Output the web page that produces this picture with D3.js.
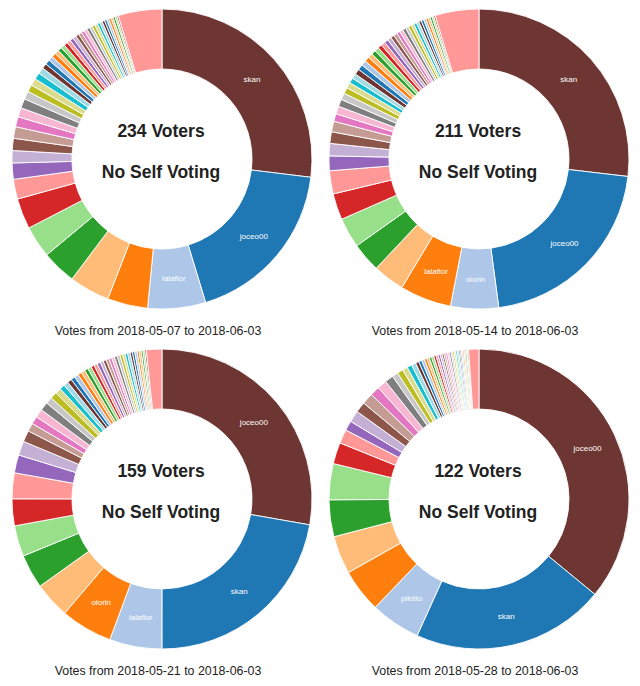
<!DOCTYPE html>
<html>
<head>
<meta charset="utf-8">
<script src="https://cdn.jsdelivr.net/npm/d3@7"></script>
<style>
  html, body { margin: 0; padding: 0; background: #fff; }
  svg { display: block; }
</style>
</head>
<body>
<svg id="chart" width="640" height="686"></svg>
<script>
// ---- data (slice shares; last slice = everyone else) ----
const dateRanges = ["2018-05-07 to 2018-06-03", "2018-05-14 to 2018-06-03",
                    "2018-05-21 to 2018-06-03", "2018-05-28 to 2018-06-03"];
const voterCounts = [234, 211, 159, 122];
const centerSubtitle = "No Self Voting";

const labels1 = ["skan", "joceo00", "lalaflor"];
const labels2 = ["skan", "joceo00", "olorin", "lalaflor"];
const labels3 = ["joceo00", "skan", "lalaflor", "olorin"];
const labels4 = ["joceo00", "skan", "pilotto"];

const shares1 = [97.2, 66.2, 22.5, 15.7, 15.7, 13.4, 12.4, 11.9, 7.7, 6.3, 4.8, 4.7, 4.5, 3.9, 3.6, 3.7, 3.1, 2.8, 2.8, 2.6, 2.4,
  2.0, 1.9, 1.8, 1.7, 1.6, 1.6, 1.5, 1.5, 1.4, 1.4, 1.3, 1.3, 1.3, 1.2, 1.2, 1.2, 1.1, 1.1, 1.1, 1.0, 1.0, 1.0, 0.9, 0.9, 0.9, 0.8, 0.8, 0.7, 0.6,
  17.0];
const shares2 = [96.8, 75.8, 18.6, 20.0, 12.3, 11.4, 11.7, 10.2, 9.0, 5.7, 4.8, 4.5, 4.1, 3.0, 3.0, 2.8, 2.6, 2.4, 2.2, 2.0, 1.9,
  2.2, 2.1, 2.0, 1.9, 1.8, 1.7, 1.7, 1.6, 1.6, 1.5, 1.5, 1.4, 1.4, 1.3, 1.3, 1.3, 1.2, 1.2, 1.1, 1.1, 1.0, 1.0, 1.0, 0.9, 0.9, 0.8, 0.8, 0.7, 0.6,
  17.0];
const shares3 = [99.9, 80.1, 20.3, 20.1, 14.0, 13.2, 12.0, 10.4, 10.0, 7.0, 5.5, 4.4, 3.2, 3.0, 3.3, 3.3, 2.6, 2.6, 2.3, 2.0, 1.8,
  1.7, 1.6, 1.6, 1.5, 1.5, 1.4, 1.4, 1.3, 1.3, 1.3, 1.2, 1.2, 1.2, 1.1, 1.1, 1.1, 1.1, 1.0, 1.0, 1.0, 1.0, 0.9, 0.9, 0.9, 0.8, 0.8, 0.7, 0.7, 0.6,
  6.0];
const shares4 = [129.6, 75.0, 19.4, 16.9, 14.8, 14.3, 14.0, 8.3, 5.4, 3.8, 4.5, 4.1, 4.4, 3.7, 3.7, 3.3, 2.3, 2.3, 2.0, 1.9, 1.7,
  1.3, 1.2, 1.1, 1.0, 1.0, 0.9, 0.9, 0.9, 0.8, 0.8, 0.8, 0.7, 0.7, 0.7, 0.7, 0.7, 0.6, 0.6, 0.6, 0.6, 0.6, 0.5, 0.5, 0.5, 0.5, 0.5, 0.5, 0.4, 0.4,
  4.0];

const palette = ["#6d3633", "#1f77b4", "#aec7e8", "#ff7f0e", "#ffbb78", "#2ca02c", "#98df8a",
  "#d62728", "#ff9896", "#9467bd", "#c5b0d5", "#8c564b", "#c49c94", "#e377c2", "#f7b6d2",
  "#7f7f7f", "#c7c7c7", "#bcbd22", "#dbdb8d", "#17becf", "#9edae5"];

const panels = [
  { shares: shares1, labels: labels1, cx: 162, cy: 159 },
  { shares: shares2, labels: labels2, cx: 479, cy: 159 },
  { shares: shares3, labels: labels3, cx: 162, cy: 499 },
  { shares: shares4, labels: labels4, cx: 479, cy: 499 }
];

// ---- drawing ----
const svg = d3.select("#chart");
const outerR = 150, innerR = 90;
const color = d3.scaleOrdinal().range(palette);
const pie = d3.pie().sort(null).value(d => d);
const arc = d3.arc().innerRadius(innerR).outerRadius(outerR);

panels.forEach((p, i) => {
  color.domain(d3.range(p.shares.length));
  const g = svg.append("g").attr("transform", `translate(${p.cx},${p.cy})`);
  const arcs = pie(p.shares);
  g.selectAll("path").data(arcs).enter().append("path")
    .attr("d", arc)
    .attr("fill", (d, j) => color(j))
    .attr("stroke", "#fff")
    .attr("stroke-width", 0.9);

  g.selectAll("text.lbl").data(arcs.filter((d, j) => j < p.labels.length)).enter()
    .append("text").attr("class", "lbl")
    .attr("transform", d => `translate(${arc.centroid(d)})`)
    .attr("text-anchor", "middle")
    .attr("dy", "0.35em")
    .attr("fill", "#fff")
    .style("font-family", "'Liberation Sans', Arial, sans-serif")
    .style("font-size", "8px")
    .text((d, j) => p.labels[j]);

  g.append("text")
    .attr("x", -1).attr("y", -22)
    .attr("text-anchor", "middle")
    .attr("fill", "#222")
    .style("font-family", "'Liberation Sans', Arial, sans-serif")
    .style("font-weight", "bold")
    .style("font-size", "17.5px")
    .text(`${voterCounts[i]} Voters`);
  g.append("text")
    .attr("x", -1).attr("y", 19)
    .attr("text-anchor", "middle")
    .attr("fill", "#222")
    .style("font-family", "'Liberation Sans', Arial, sans-serif")
    .style("font-weight", "bold")
    .style("font-size", "17.5px")
    .text(centerSubtitle);

  g.append("text")
    .attr("x", -4).attr("y", 176)
    .attr("text-anchor", "middle")
    .attr("fill", "#222")
    .style("font-family", "'Liberation Sans', Arial, sans-serif")
    .style("font-size", "12.4px")
    .text(`Votes from ${dateRanges[i]}`);
});
</script>
</body>
</html>
